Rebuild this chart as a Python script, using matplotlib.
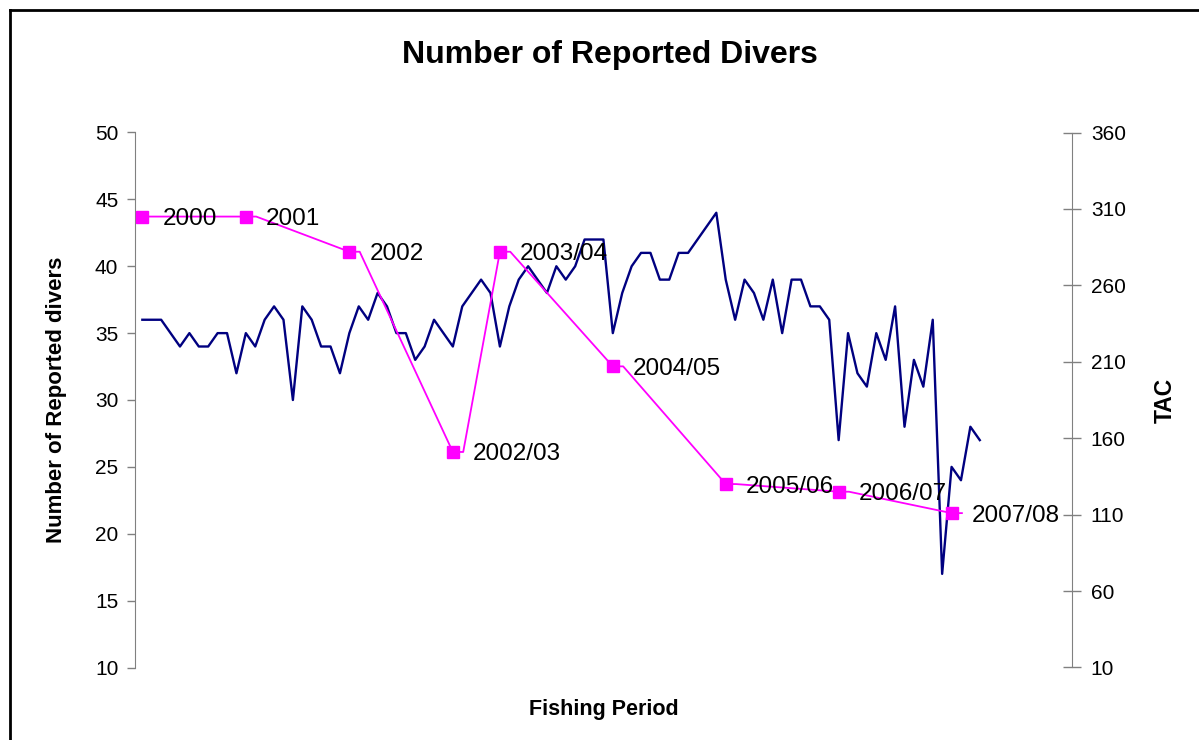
import matplotlib
matplotlib.use("Agg")
import matplotlib.pyplot as plt
from matplotlib.lines import Line2D

plt.rcParams['font.family'] = ['Liberation Sans', 'DejaVu Sans']

# Number of reported divers per fishing period (monthly index)
divers = [36, 36, 36, 35, 34, 35, 34, 34, 35, 35,
          32, 35, 34, 36, 37, 36, 30, 37, 36, 34,
          34, 32, 35, 37, 36, 38, 37, 35, 35, 33,
          34, 36, 35, 34, 37, 38, 39, 38, 34, 37,
          39, 40, 39, 38, 40, 39, 40, 42, 42, 42,
          35, 38, 40, 41, 41, 39, 39, 41, 41, 42,
          43, 44, 39, 36, 39, 38, 36, 39, 35, 39,
          39, 37, 37, 36, 27, 35, 32, 31, 35, 33,
          37, 28, 33, 31, 36, 17, 25, 24, 28, 27]

# TAC series (secondary axis), positioned on the period index
tac_labels = ["2000", "2001", "2002", "2002/03", "2003/04",
              "2004/05", "2005/06", "2006/07", "2007/08"]
tac_index = [0, 11, 22, 33, 38, 50, 62, 74, 86]
tac_values = [305, 305, 282, 151, 282, 207, 130, 125, 111]

W, H, DPI = 1199, 740, 100
fig = plt.figure(figsize=(W / DPI, H / DPI), dpi=DPI)

# outer frame (left and top edges)
fig.add_artist(Line2D([10 / W, 10 / W], [0, 1 - 10 / H], color='black', lw=2, transform=fig.transFigure))
fig.add_artist(Line2D([10 / W, 1], [1 - 10 / H, 1 - 10 / H], color='black', lw=2, transform=fig.transFigure))

left_px, right_px, top_px, bot_px = 135, 1072, 132.5, 667.5
ax = fig.add_axes([left_px / W, 1 - bot_px / H, (right_px - left_px) / W, (bot_px - top_px) / H])
ax.patch.set_alpha(0)

x = list(range(len(divers)))
ax.plot(x, divers, color='#000080', lw=1.7, zorder=2)
ax.set_xlim(-0.78, 98.8)
ax.set_ylim(10, 50)
ax.set_yticks(range(10, 51, 5))
ax.set_xticks([])
for s in ['top', 'bottom']:
    ax.spines[s].set_visible(False)
ax.spines['left'].set_color('#808080')
ax.spines['right'].set_visible(False)
ax.tick_params(axis='y', direction='out', length=6, width=1, color='#808080',
               labelsize=15, pad=6)
ax.set_ylabel("Number of Reported divers", fontsize=16, fontweight='bold', labelpad=20)
ax.set_xlabel("Fishing Period", fontsize=15.5, fontweight='bold', labelpad=23)
ax.set_title("Number of Reported Divers", fontsize=23, fontweight='bold', pad=50, x=0.507)

ax2 = ax.twinx()
ax2.set_ylim(10, 360)
ax2.set_yticks(range(10, 361, 50))
for s in ['top', 'bottom', 'left']:
    ax2.spines[s].set_visible(False)
ax2.spines['right'].set_color('#808080')
ax2.tick_params(axis='y', direction='inout', length=13, width=1, color='#808080',
                labelsize=15, pad=7)
ax2.set_ylabel("TAC", fontsize=16.5, fontweight='bold', labelpad=20)

# line path with short flat step after each marker
lx, ly = [], []
for i, (xi, yi) in enumerate(zip(tac_index, tac_values)):
    lx.append(xi)
    ly.append(yi)
    if i > 0:
        lx.append(xi + 1.1)
        ly.append(yi)
ax2.plot(lx, ly, color='#FF00FF', lw=1.3, zorder=3)
ax2.plot(tac_index, tac_values, linestyle='none', marker='s', markersize=8.5,
         color='#FF00FF', zorder=4)
for lab, xi, yi in zip(tac_labels, tac_index, tac_values):
    ax2.annotate(lab, (xi, yi), xytext=(14.5, 0), textcoords='offset points',
                 ha='left', va='center_baseline', fontsize=17.5, color='black', zorder=5)

fig.savefig("out.png", dpi=DPI)
